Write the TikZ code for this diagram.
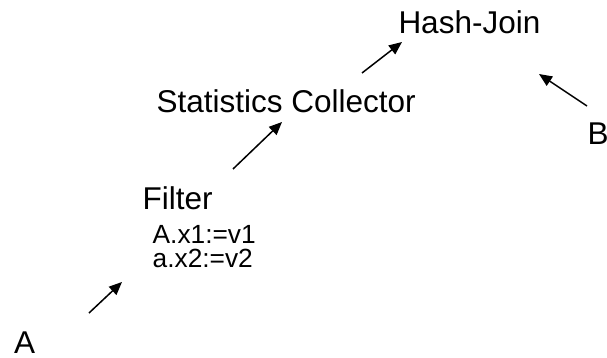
\documentclass[tikz,border=0pt]{standalone}
\usepackage{fontspec}
\setmainfont{Liberation Sans}
\usetikzlibrary{arrows.meta}
\begin{document}
\begin{tikzpicture}[x=1pt,y=-1pt,
  label text/.style={inner sep=0pt,anchor=base west,font=\fontsize{31.5}{36}\selectfont},
  cond text/.style={inner sep=0pt,anchor=base west,font=\fontsize{26.3}{30}\selectfont},
  flow/.style={line width=1.5pt,-{Triangle[length=13pt,width=11pt]}}]
\useasboundingbox (0,0) rectangle (607,358);
% operator tree
\node[label text] (hj) at (398.3,33.3) {Hash-Join};
\node[label text] (sc) at (156.5,113) {Statistics Collector};
\node[label text] (filt) at (142.5,209) {Filter};
\node[cond text] (cond1) at (152.5,243) {A.x1:=v1};
\node[cond text] (cond2) at (152.5,267.5) {a.x2:=v2};
\node[label text] (ta) at (14,353) {A};
\node[label text] (tb) at (587.5,145) {B};
% arrow end points
\coordinate (a1) at (89,313);   \coordinate (a2) at (122,282);
\coordinate (f1) at (233,169);  \coordinate (f2) at (282,122);
\coordinate (s1) at (362,73);   \coordinate (s2) at (402,42);
\coordinate (b1) at (587,106);  \coordinate (b2) at (539,74);
\draw[flow] (a1) -- (a2);
\draw[flow] (f1) -- (f2);
\draw[flow] (s1) -- (s2);
\draw[flow] (b1) -- (b2);
\end{tikzpicture}
\end{document}
